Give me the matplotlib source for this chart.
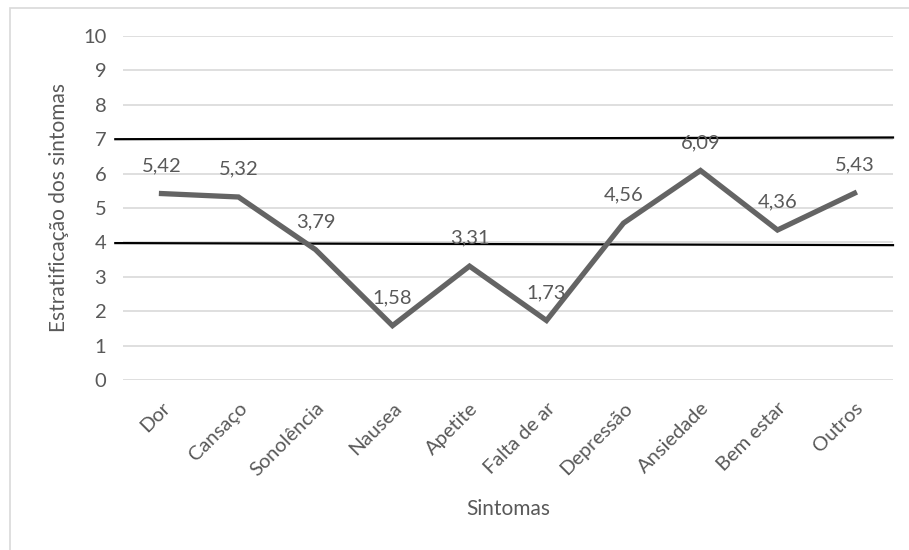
import matplotlib as mpl

mpl.use('Agg')

from matplotlib import pyplot as plt
from matplotlib.patches import Rectangle

sintomas = ['Dor', 'Cansaço', 'Sonolência', 'Nausea', 'Apetite',
            'Falta de ar', 'Depressão', 'Ansiedade', 'Bem estar', 'Outros']
medias = [5.42, 5.32, 3.79, 1.58, 3.31, 1.73, 4.56, 6.09, 4.36, 5.43]
rotulos = ['5,42', '5,32', '3,79', '1,58', '3,31', '1,73', '4,56', '6,09', '4,36', '5,43']

# reference lines, drawn by hand in the original (slightly tilted)
limite_alto = [7.0, 7.05]
limite_baixo = [3.98, 3.92]

plt.rcParams['font.family'] = ['Lato', 'DejaVu Sans']
cinza = '#595959'

fig = plt.figure(figsize=(9.09, 5.5), dpi=100)
ax = fig.add_axes([123 / 909, 1 - 380 / 550, 770 / 909, 344 / 550])

x = list(range(len(sintomas)))
ax.plot(x, medias, color='#646464', linewidth=3.8, solid_joinstyle='miter', zorder=3)
for xi, yi, txt in zip(x, medias, rotulos):
    ax.annotate(txt, (xi, yi), xytext=(0, 14), textcoords='offset points',
                ha='center', va='bottom', fontsize=14.5, color=cinza, zorder=4)

ax.plot([-0.6, 9.5], limite_alto, color='black', linewidth=1.6, zorder=2, clip_on=False)
ax.plot([-0.6, 9.5], limite_baixo, color='black', linewidth=1.6, zorder=2, clip_on=False)

ax.set_xlim(-0.5, 9.5)
ax.set_ylim(0, 10)
ax.set_yticks(range(0, 11))
ax.yaxis.grid(True, color='#d9d9d9', linewidth=1.2)
ax.set_axisbelow(True)
for s in ax.spines.values():
    s.set_visible(False)
ax.tick_params(axis='both', length=0, labelsize=14.5, labelcolor=cinza, pad=12)
ax.set_xticks(x)
ax.set_xticklabels(sintomas, rotation=45, ha='right', rotation_mode='anchor')
ax.tick_params(axis='x', pad=14)

ax.set_ylabel('Estratificação dos sintomas', fontsize=15, color=cinza, labelpad=10)
ax.set_xlabel('Sintomas', fontsize=15, color=cinza, labelpad=14)

fig.patches.append(Rectangle((10 / 909, -0.1), 1.2, 1 - 8 / 550 + 0.1,
                             transform=fig.transFigure, fill=False,
                             edgecolor='#d9d9d9', linewidth=1.2))

plt.savefig('out.png', dpi=100)
plt.close()
